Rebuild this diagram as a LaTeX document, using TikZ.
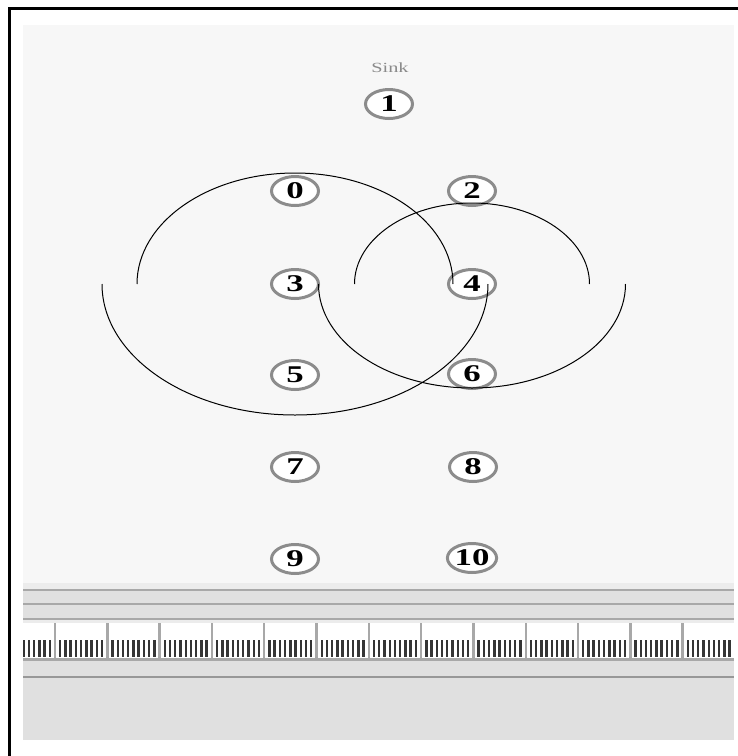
\documentclass[tikz,border=0pt]{standalone}
\usepackage{fontspec}
\newfontfamily\labelfont[FakeStretch=1.45]{Liberation Serif}
\usetikzlibrary{shapes.geometric}
\definecolor{canvas}{HTML}{F7F7F7}
\definecolor{chrome}{HTML}{E0E0E0}
\definecolor{chromelite}{HTML}{ECECEC}
\definecolor{ring}{HTML}{8C8C8C}
\definecolor{edge}{HTML}{A8A8A8}
\definecolor{edgedark}{HTML}{989898}
\definecolor{tickdark}{HTML}{353535}
\definecolor{sinktext}{HTML}{8A8A8A}
\tikzset{
  mote/.style={
    ellipse, draw=ring, line width=3pt, fill=white, inner sep=0pt,
    minimum width=47pt, minimum height=29pt, text=black,
    font=\labelfont\bfseries\fontsize{24}{24}\selectfont,
  },
  tag/.style={font=\labelfont\fontsize{14}{14}\selectfont, text=sinktext, inner sep=1pt},
  %
  reach/.style={draw=black, line width=1pt},
  band/.style={draw=none},
}
\begin{document}
\begin{tikzpicture}[x=1pt, y=-1pt]
  \useasboundingbox (0,0) rectangle (738,756);

  % --- frame ------------------------------------------------------------
  \fill[black] (8,6.5) rectangle (738,9.5);
  \fill[black] (8,6.5) rectangle (11,756);

  % --- canvas -----------------------------------------------------------
  \fill[band, canvas] (23,25) rectangle (734,583);

  % --- chrome below -----------------------------------------------------
  \fill[band, chromelite] (23,583) rectangle (734,589);
  \fill[band, edge]       (23,589) rectangle (734,591);
  \fill[band, chrome]     (23,591) rectangle (734,603);
  \fill[band, edge]       (23,603) rectangle (734,605);
  \fill[band, chrome]     (23,605) rectangle (734,618);
  \fill[band, edge]       (23,618) rectangle (734,620);
  \fill[band, chromelite] (23,620) rectangle (734,623);
  \fill[band, white]      (23,623) rectangle (734,658);
  \fill[band, edge]       (23,658) rectangle (734,661);
  \fill[band, chrome]     (23,661) rectangle (734,676);
  \fill[band, edgedark]   (23,676) rectangle (734,678);
  \fill[band, chrome]     (23,678) rectangle (734,740);

  % ruler
  \begin{scope}
    \clip (23,623) rectangle (733,658);
    \foreach \m in {-1,...,12} {
      \foreach \s in {1,...,9}
        \fill[tickdark] ({55+52.3*\m+5.23*\s-1.2},640) rectangle +(2.4,17);
      \fill[edge] ({55+52.3*\m-1.2},623) rectangle +(2.4,35);
    }
  \end{scope}

  % --- motes ------------------------------------------------------------
  \node[tag] (sinklbl) at (390,68) {Sink};
  \node[mote] (n1)  at (389,104) {1};
  \node[mote] (n0)  at (295,191) {0};
  \node[mote] (n2)  at (472,191) {2};
  \node[mote] (n3)  at (295,284) {3};
  \node[mote] (n4)  at (472,284) {4};
  \node[mote] (n5)  at (295,375) {5};
  \node[mote] (n6)  at (472,374) {6};
  \node[mote] (n7)  at (295,467) {7};
  \node[mote] (n8)  at (473,467) {8};
  \node[mote] (n9)  at (295,559) {9};
  \node[mote] (n10) at (472,558) {10};

  % --- radio reach ------------------------------------------------------
  \draw[reach] ([xshift=-158pt]n3.center)
    arc[start angle=180, end angle=0, x radius=158pt, y radius=111pt];
  \draw[reach] ([xshift=-193pt]n3.center)
    arc[start angle=180, end angle=360, x radius=193pt, y radius=131pt];
  \draw[reach] ([xshift=-117.5pt]n4.center)
    arc[start angle=180, end angle=0, x radius=117.5pt, y radius=81pt];
  \draw[reach] ([xshift=-153.5pt]n4.center)
    arc[start angle=180, end angle=360, x radius=153.5pt, y radius=104pt];

\end{tikzpicture}
\end{document}
